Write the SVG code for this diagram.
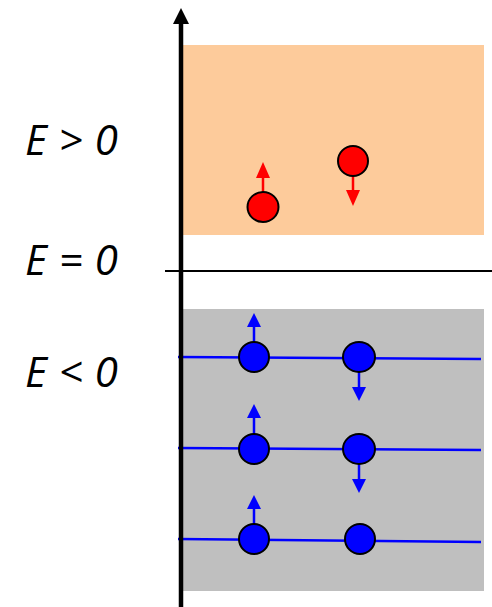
<svg xmlns="http://www.w3.org/2000/svg" width="492" height="607" viewBox="0 0 492 607">
<style>
.lbl{font-family:"Open Sans","Liberation Sans",sans-serif;font-style:italic;font-size:42px;fill:#000}
.red{fill:#ff0000;stroke:#000;stroke-width:2}
.blue{fill:#0000ff;stroke:#000;stroke-width:2}
.rl{stroke:#ff0000;stroke-width:2.5}
.bl{stroke:#0000ff;stroke-width:2.5}
.lev{stroke:#0000ff;stroke-width:2.5;fill:none}
</style>
<rect x="183" y="45" width="301" height="190" fill="#fdcb9b"/>
<rect x="183" y="309" width="301" height="282" fill="#bfbfbf"/>
<g id="levels">
<line class="lev" x1="178" y1="357" x2="481" y2="359"/>
<line class="lev" x1="178" y1="448" x2="481" y2="450"/>
<line class="lev" x1="178" y1="539" x2="481" y2="542"/>
</g>
<g id="axes">
<line x1="165" y1="271" x2="492" y2="271" stroke="#000" stroke-width="2"/>
<line x1="181" y1="22" x2="181" y2="607" stroke="#000" stroke-width="4.5"/>
<polygon points="181,8 173,24 189,24" fill="#000"/>
</g>
<g id="labels">
<text class="lbl" x="25" y="155" textLength="93" lengthAdjust="spacing">E &gt; 0</text>
<text class="lbl" x="25" y="275" textLength="93" lengthAdjust="spacing">E = 0</text>
<text class="lbl" x="25" y="387" textLength="93" lengthAdjust="spacing">E &lt; 0</text>
</g>
<g id="connectors">
<line class="rl" x1="263" y1="192" x2="263" y2="176"/>
<polygon points="263,162 256,178 270,178" fill="#ff0000"/>
<line class="rl" x1="353" y1="176" x2="353" y2="192"/>
<polygon points="353,206 346,190 360,190" fill="#ff0000"/>
<line class="bl" x1="254" y1="342" x2="254" y2="326"/>
<polygon points="254,313 247,327 261,327" fill="#0000ff"/>
<line class="bl" x1="359" y1="372" x2="359" y2="388"/>
<polygon points="359,401 352,387 366,387" fill="#0000ff"/>
<line class="bl" x1="254" y1="434" x2="254" y2="417"/>
<polygon points="254,404 247,418 261,418" fill="#0000ff"/>
<line class="bl" x1="359" y1="464" x2="359" y2="480"/>
<polygon points="359,493 352,479 366,479" fill="#0000ff"/>
<line class="bl" x1="254" y1="524" x2="254" y2="508"/>
<polygon points="254,495 247,509 261,509" fill="#0000ff"/>
</g>
<g id="e1"><ellipse class="red" cx="263" cy="207" rx="15.5" ry="15"/></g>
<g id="e2"><ellipse class="red" cx="353" cy="161" rx="15" ry="15"/></g>
<g id="b1"><ellipse class="blue" cx="254" cy="357" rx="15" ry="15"/></g>
<g id="b2"><ellipse class="blue" cx="359" cy="357" rx="16" ry="15"/></g>
<g id="b3"><ellipse class="blue" cx="254" cy="449" rx="15" ry="15"/></g>
<g id="b4"><ellipse class="blue" cx="359" cy="449" rx="16" ry="15"/></g>
<g id="b5"><ellipse class="blue" cx="254" cy="539" rx="15" ry="15"/></g>
<g id="b6"><ellipse class="blue" cx="360" cy="539" rx="15" ry="15"/></g>
</svg>
